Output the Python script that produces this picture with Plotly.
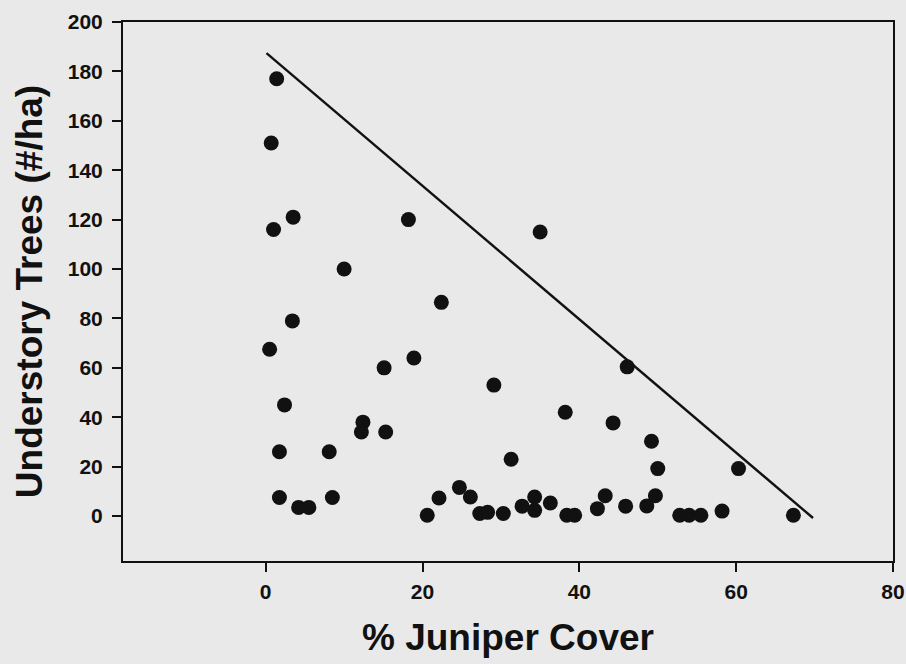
import plotly.graph_objects as go

# % juniper cover vs understory trees (#/ha)
juniper_cover = [1.4, 0.7, 3.5, 1.0, 18.2, 10.0, 22.4, 3.4, 0.5, 18.9, 15.1, 2.4, 12.4, 12.2, 15.3,
                 1.75, 8.1, 1.75, 4.2, 5.5, 8.5, 20.6, 22.1, 24.7, 26.1, 27.3, 28.3, 30.3, 32.7,
                 34.3, 34.3, 36.3, 38.4, 39.4, 42.3, 43.3, 45.9, 48.6, 49.7, 52.8, 54.0, 55.5,
                 58.2, 67.3, 35.0, 29.1, 31.3, 38.2, 44.3, 46.1, 49.2, 50.0, 60.3]
understory_trees = [177, 151, 121, 116, 120, 100, 86.5, 79, 67.5, 64, 60, 45, 38, 34, 34,
                    26, 26, 7.5, 3.5, 3.5, 7.5, 0.3, 7.3, 11.6, 7.7, 1.0, 1.5, 1.0, 4.0,
                    7.7, 2.3, 5.3, 0.3, 0.3, 3.0, 8.2, 4.0, 4.1, 8.2, 0.3, 0.3, 0.3,
                    2.0, 0.3, 115, 53, 23, 42, 37.7, 60.4, 30.3, 19.2, 19.2]

# fitted regression line end points
fit_x = [0.1, 69.8]
fit_y = [187.4, -0.8]

x_ticks = [0, 20, 40, 60, 80]
y_ticks = [0, 20, 40, 60, 80, 100, 120, 140, 160, 180, 200]

BG = "#e9e9e9"
INK = "#111111"
FONT = "Liberation Sans, Arial, sans-serif"

fig = go.Figure()
fig.add_trace(go.Scatter(x=fit_x, y=fit_y, mode="lines",
                         line=dict(color=INK, width=2.4), showlegend=False, hoverinfo="skip"))
fig.add_trace(go.Scatter(x=juniper_cover, y=understory_trees, mode="markers",
                         marker=dict(color=INK, size=15, line=dict(width=0)), showlegend=False))

axis_common = dict(
    showgrid=False, zeroline=False, showline=True, linecolor=INK, linewidth=2,
    mirror=True, ticks="outside", ticklen=9, tickwidth=2, tickcolor=INK,
    tickfont=dict(family=FONT, size=21, color=INK, weight="bold"),
    automargin=False,
)

fig.update_xaxes(range=[-18.2, 80], tickvals=x_ticks, ticklabelstandoff=2,
                 title=dict(text="% Juniper Cover", standoff=22,
                            font=dict(family=FONT, size=37, color=INK, weight="bold")),
                 **axis_common)
fig.update_yaxes(range=[-18.2, 200], tickvals=y_ticks, ticklabelstandoff=5,
                 title=dict(text="Understory Trees (#/ha)", standoff=14,
                            font=dict(family=FONT, size=37, color=INK, weight="bold")),
                 **axis_common)

fig.update_layout(
    width=906, height=664,
    margin=dict(l=123, r=13, t=22, b=103, autoexpand=False),
    paper_bgcolor=BG, plot_bgcolor=BG,
    showlegend=False,
)

fig.write_html(
    "out.html",
    config={"displayModeBar": False},
    post_script="document.body.style.margin='0';document.body.style.overflow='hidden';"
                "document.body.style.background='%s';" % BG,
)
